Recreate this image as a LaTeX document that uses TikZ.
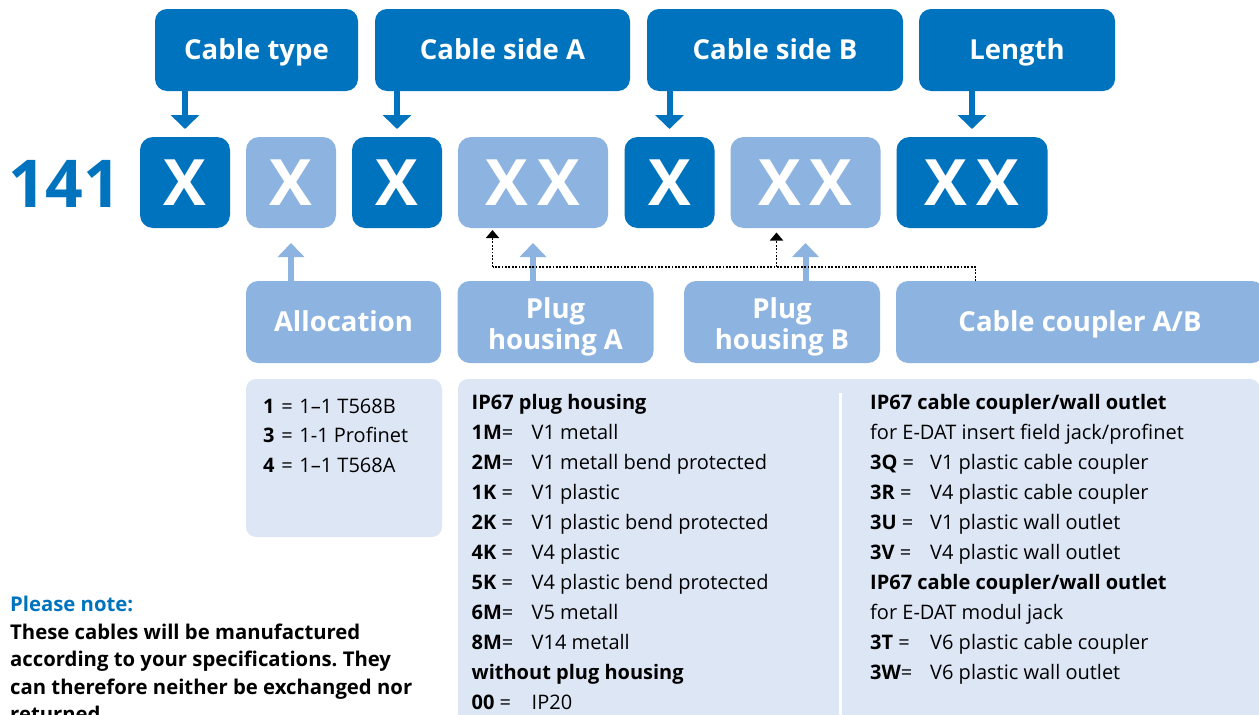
\documentclass[tikz,border=0pt]{standalone}
\usepackage{fontspec}
\setmainfont{Open Sans}
\usetikzlibrary{arrows.meta}
\definecolor{dkb}{RGB}{0,115,190}
\definecolor{ltb}{RGB}{141,180,225}
\definecolor{inf}{RGB}{221,230,245}
\newcommand\kv[2]{\makebox[60pt][l]{\textbf{#1}#2}}
\frenchspacing
\begin{document}
\begin{tikzpicture}[x=1pt,y=-1pt,
  box/.style={inner sep=0pt, outer sep=0pt, rounded corners=12pt, text=white},
  topbox/.style={box, fill=dkb, minimum height=82pt, font=\fontsize{27.5}{30}\selectfont\bfseries, text height=19.6pt, text depth=0pt},
  lblbox/.style={box, fill=ltb, minimum height=82pt, font=\fontsize{27.5}{30}\selectfont\bfseries, text height=19.6pt, text depth=0pt},
  lbltxt/.style={inner sep=0pt, anchor=base, text=white, font=\fontsize{27.5}{30}\selectfont\bfseries},
  codebox/.style={box, rounded corners=13pt, minimum height=91pt, font=\fontsize{64}{70}\selectfont\bfseries, text height=45.7pt, text depth=0pt},
  dk/.style={codebox, fill=dkb},
  lt/.style={codebox, fill=ltb},
  txt/.style={inner sep=0pt, anchor=base west, font=\fontsize{20}{24}\selectfont},
  note/.style={inner sep=0pt, anchor=base west, font=\fontsize{20.3}{24}\selectfont\bfseries},
  darr/.style={draw=dkb, line width=6pt, -{Triangle[width=28pt,length=14pt]}, shorten >=8pt},
  uarr/.style={draw=ltb, line width=6pt, -{Triangle[width=26pt,length=14pt]}, shorten >=15pt},
  dotline/.style={draw=black, line width=1.8pt, dash pattern=on 1.8pt off 1.6pt},
  dotarr/.style={dotline, -{Triangle[width=13pt,length=8pt]}}
]
\useasboundingbox (0,0) rectangle (1259,715);
\fill[white] (0,0) rectangle (1259,715);

% top label boxes
\node[topbox, minimum width=203pt] (ct) at (256.5,50) {Cable type};
\node[topbox, minimum width=255pt] (csa) at (502.5,50) {Cable side A};
\node[topbox, minimum width=256pt] (csb) at (775,50) {Cable side B};
\node[topbox, minimum width=196pt] (len) at (1017,50) {Length};

% code row
\node[inner sep=0pt, anchor=base west, text=dkb, font=\fontsize{66}{70}\selectfont\bfseries] (num) at (8,207.5) {141};
\node[dk, minimum width=90pt] (x1) at (185,182.5) {X};
\node[lt, minimum width=90pt] (x2) at (291,182.5) {X};
\node[dk, minimum width=90pt] (x3) at (397,182.5) {X};
\node[lt, minimum width=150pt] (x4) at (533,182.5) {X\hspace{9pt}X};
\node[dk, minimum width=90pt] (x5) at (669.5,182.5) {X};
\node[lt, minimum width=150pt] (x6) at (805.5,182.5) {X\hspace{9pt}X};
\node[dk, minimum width=151pt] (x7) at (972,182.5) {X\hspace{9pt}X};

% down arrows
\draw[darr] (ct.south -| x1.north) -- (x1.north);
\draw[darr] (csa.south -| x3.north) -- (x3.north);
\draw[darr] (csb.south -| x5.north) -- (x5.north);
\draw[darr] (len.south -| x7.north) -- (x7.north);

% bottom label boxes
\node[lblbox, minimum width=195pt] (alloc) at (343.5,322) {Allocation};
\node[lblbox, minimum width=196pt] (pha) at (555.5,322) {};
\node[lbltxt] (phat1) at (555.5,318) {Plug};
\node[lbltxt] (phat2) at (555.5,349) {housing A};
\node[lblbox, minimum width=196pt] (phb) at (782,322) {};
\node[lbltxt] (phbt1) at (782,318) {Plug};
\node[lbltxt] (phbt2) at (782,349) {housing B};
\node[lblbox, minimum width=368pt] (cc) at (1080,322) {Cable coupler A/B};

% up arrows
\draw[uarr] (alloc.north -| x2.south) -- (x2.south);
\draw[uarr] (pha.north -| x4.south) -- (x4.south);
\draw[uarr] (phb.north -| x6.south) -- (x6.south);

% dotted connector
\coordinate (dj) at (975.5,267);
\coordinate (dl) at (492.5,267);
\coordinate (dm) at (776.5,267);
\draw[dotline] (cc.north -| dj) -- (dj) -- (dl);
\draw[dotarr, shorten >=2pt] (dl) -- (dl |- x4.south);
\draw[dotarr, shorten >=4.5pt] (dm) -- (dm |- x6.south);

% info boxes
\fill[inf, rounded corners=10pt] (246,379) rectangle (442,537);
\fill[inf, rounded corners=10pt] (458,379) rectangle (1260,745);
\draw[white, line width=3pt] (840,393) -- (840,745);

\foreach \t [count=\i from 0] in {{\textbf{1}\,\,=\,\,1–1 T568B},{\textbf{3}\,\,=\,\,1-1 Profinet},{\textbf{4}\,\,=\,\,1–1 T568A}}
  \node[txt] (al\i) at (263,{413+29.5*\i}) {\t};

\foreach \t [count=\i from 0] in {{\textbf{IP67 plug housing}},{\kv{1M}{=}V1 metall},{\kv{2M}{=}V1 metall bend protected},{\kv{1K}{ =}V1 plastic},{\kv{2K}{ =}V1 plastic bend protected},{\kv{4K}{ =}V4 plastic},{\kv{5K}{ =}V4 plastic bend protected},{\kv{6M}{=}V5 metall},{\kv{8M}{=}V14 metall},{\textbf{without plug housing}},{\kv{00}{ =}IP20}}
  \node[txt] (pl\i) at (471.5,{409.3+30*\i}) {\t};

\foreach \t [count=\i from 0] in {{\textbf{IP67 cable coupler/wall outlet}},{for E-DAT insert field jack/profinet},{\kv{3Q}{ =}V1 plastic cable coupler},{\kv{3R}{ =}V4 plastic cable coupler},{\kv{3U}{ =}V1 plastic wall outlet},{\kv{3V}{ =}V4 plastic wall outlet},{\textbf{IP67 cable coupler/wall outlet}},{for E-DAT modul jack},{\kv{3T}{ =}V6 plastic cable coupler},{\kv{3W}{=}V6 plastic wall outlet}}
  \node[txt] (pr\i) at (870,{409.3+30*\i}) {\t};

% note
\node[note, text=dkb] (n0) at (10,611.5) {Please note:};
\foreach \t [count=\i from 1] in {{These cables will be manufactured},{according to your specifications. They},{can therefore neither be exchanged nor},{returned.}}
  \node[note] (n\i) at (10,{611.5+27.5*\i}) {\t};
\end{tikzpicture}
\end{document}
